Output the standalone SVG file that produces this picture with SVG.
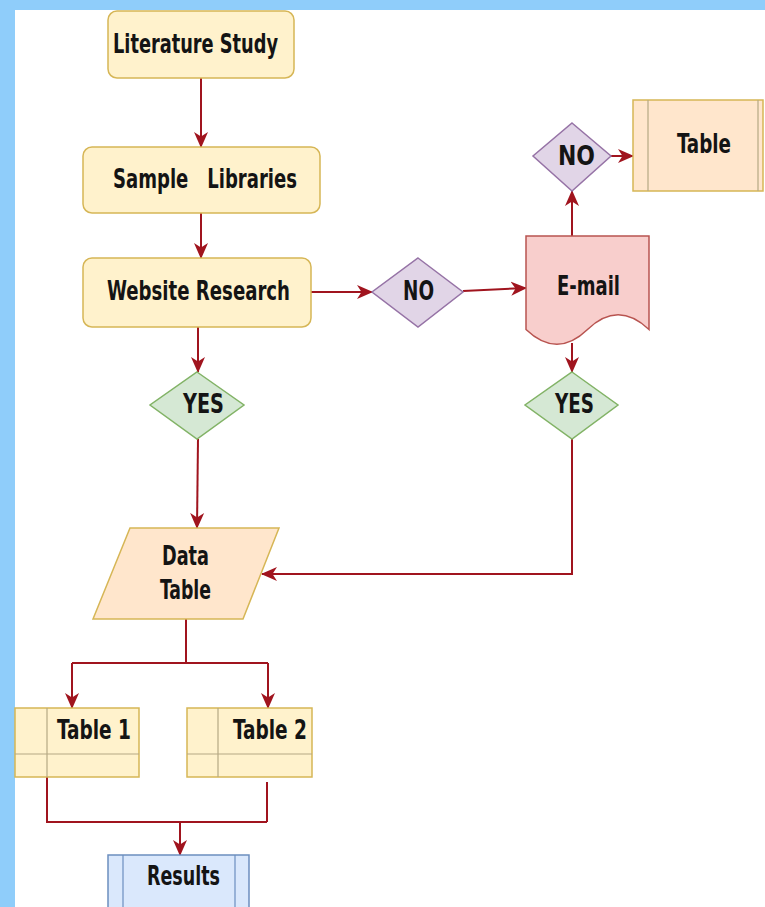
<svg xmlns="http://www.w3.org/2000/svg" width="765" height="907" viewBox="0 0 765 907">
<defs>
<marker id="arr" markerUnits="userSpaceOnUse" markerWidth="16" markerHeight="16" viewBox="0 0 16 16" refX="15" refY="8" orient="auto">
<path d="M0,1 L16,8 L0,15 L4.5,8 Z" fill="#a0141e"/>
</marker>
<style>
.lbl{font-family:"DejaVu Sans Condensed","DejaVu Sans","Liberation Sans",sans-serif;font-weight:bold;font-size:27px;fill:#141414;white-space:pre}
.yel{fill:#fff2cc;stroke:#d6b656;stroke-width:1.5}
.org{fill:#ffe6cc;stroke:#d6b656;stroke-width:1.5}
.blu{fill:#dae8fc;stroke:#6c8ebf;stroke-width:1.5}
.pur{fill:#e1d5e7;stroke:#9673a6;stroke-width:1.5}
.grn{fill:#d5e8d4;stroke:#82b366;stroke-width:1.5}
.red{fill:#f8cecc;stroke:#b85450;stroke-width:1.5}
.ln{fill:none;stroke:#b5a884;stroke-width:1.2}
.c{fill:none;stroke:#a0141e;stroke-width:2}
</style>
</defs>
<rect x="0" y="0" width="765" height="907" fill="#ffffff"/>
<rect x="0" y="0" width="765" height="10" fill="#8fcdfa"/>
<rect x="0" y="0" width="15" height="907" fill="#8fcdfa"/>

<g id="connectors">
<path class="c" d="M201,78 V147" marker-end="url(#arr)"/>
<path class="c" d="M201,213 V258" marker-end="url(#arr)"/>
<path class="c" d="M311,292 H372" marker-end="url(#arr)"/>
<path class="c" d="M463,291 L526,288" marker-end="url(#arr)"/>
<path class="c" d="M572,236 V191" marker-end="url(#arr)"/>
<path class="c" d="M611,156 H633" marker-end="url(#arr)"/>
<path class="c" d="M572,343 V372" marker-end="url(#arr)"/>
<path class="c" d="M198,327 V372" marker-end="url(#arr)"/>
<path class="c" d="M198,439 L197,528" marker-end="url(#arr)"/>
<path class="c" d="M572,439 V574 H262" marker-end="url(#arr)"/>
<path class="c" d="M186,619 V663"/>
<path class="c" d="M72,663 H268"/>
<path class="c" d="M72,663 V708" marker-end="url(#arr)"/>
<path class="c" d="M268,663 V708" marker-end="url(#arr)"/>
<path class="c" d="M47,777 V822 H267"/>
<path class="c" d="M267,782 V822"/>
<path class="c" d="M180,822 V855" marker-end="url(#arr)"/>
</g>

<g id="literature-study">
<rect class="yel" x="108" y="11" width="186" height="67" rx="9"/>
<text class="lbl" x="113" y="53" textLength="165" lengthAdjust="spacingAndGlyphs">Literature Study</text>
</g>
<g id="sample-libraries">
<rect class="yel" x="83" y="147" width="237" height="66" rx="9"/>
<text class="lbl" x="113" y="188" textLength="184" lengthAdjust="spacingAndGlyphs">Sample   Libraries</text>
</g>
<g id="website-research">
<rect class="yel" x="83" y="258" width="228" height="69" rx="9"/>
<text class="lbl" x="107" y="300" textLength="183" lengthAdjust="spacingAndGlyphs">Website Research</text>
</g>
<g id="no-1">
<polygon class="pur" points="418,258 463,292 418,327 372,292"/>
<text class="lbl" x="403" y="300" textLength="31" lengthAdjust="spacingAndGlyphs">NO</text>
</g>
<g id="email">
<path class="red" d="M526,236 H649 V329.5 Q618,300 587.5,329.5 Q557,359 526,329.5 Z"/>
<text class="lbl" x="557" y="295" textLength="63" lengthAdjust="spacingAndGlyphs">E-mail</text>
</g>
<g id="no-2">
<polygon class="pur" points="572,123 611,156 572,191 533,156"/>
<text class="lbl" x="558" y="165" textLength="37" lengthAdjust="spacingAndGlyphs">NO</text>
</g>
<g id="table-top">
<rect class="org" x="633" y="100" width="130" height="91"/>
<line class="ln" x1="648" y1="100" x2="648" y2="191"/>
<line class="ln" x1="758" y1="100" x2="758" y2="191"/>
<text class="lbl" x="677" y="153" textLength="54" lengthAdjust="spacingAndGlyphs">Table</text>
</g>
<g id="yes-1">
<polygon class="grn" points="197,372 244,405 197,439 150,405"/>
<text class="lbl" x="183" y="413" textLength="41" lengthAdjust="spacingAndGlyphs">YES</text>
</g>
<g id="yes-2">
<polygon class="grn" points="572,372 618,405 572,439 525,405"/>
<text class="lbl" x="555" y="413" textLength="39" lengthAdjust="spacingAndGlyphs">YES</text>
</g>
<g id="data-table">
<polygon class="org" points="130,528 279,528 243,619 93,619"/>
<text class="lbl" x="162" y="565" textLength="47" lengthAdjust="spacingAndGlyphs">Data</text>
<text class="lbl" x="160" y="599" textLength="51" lengthAdjust="spacingAndGlyphs">Table</text>
</g>
<g id="table-1">
<rect class="yel" x="15" y="708" width="124" height="69"/>
<line class="ln" x1="47" y1="708" x2="47" y2="777"/>
<line class="ln" x1="15" y1="754" x2="139" y2="754"/>
<text class="lbl" x="57" y="739" textLength="74" lengthAdjust="spacingAndGlyphs">Table 1</text>
</g>
<g id="table-2">
<rect class="yel" x="187" y="708" width="125" height="69"/>
<line class="ln" x1="218" y1="708" x2="218" y2="777"/>
<line class="ln" x1="187" y1="754" x2="312" y2="754"/>
<text class="lbl" x="233" y="739" textLength="74" lengthAdjust="spacingAndGlyphs">Table 2</text>
</g>
<g id="results">
<rect class="blu" x="108" y="855" width="141" height="70"/>
<line x1="123" y1="855" x2="123" y2="907" stroke="#6c8ebf" stroke-width="1.2"/>
<line x1="235" y1="855" x2="235" y2="907" stroke="#6c8ebf" stroke-width="1.2"/>
<text class="lbl" x="147" y="885" textLength="73" lengthAdjust="spacingAndGlyphs">Results</text>
</g>
</svg>
